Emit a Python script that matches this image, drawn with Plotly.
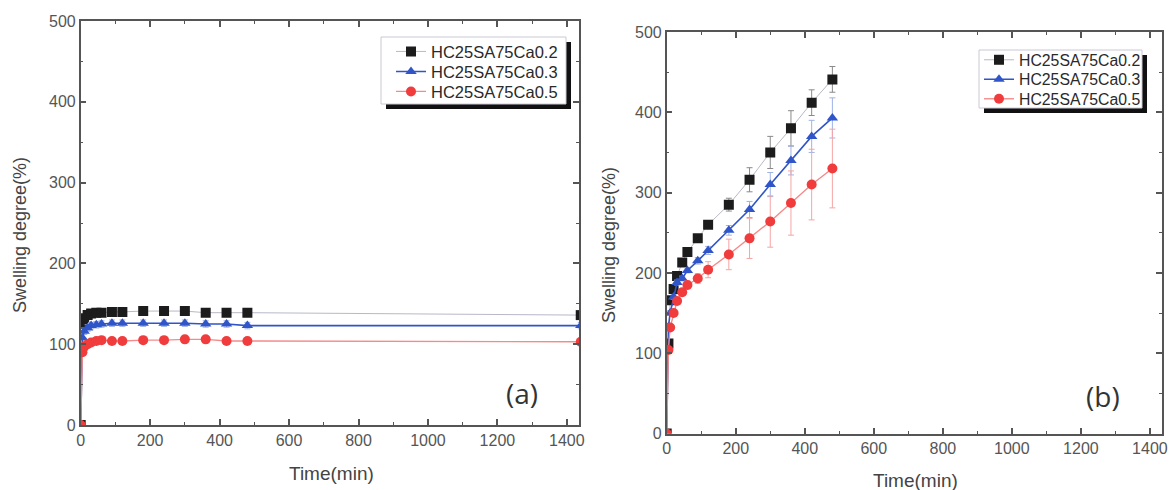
import plotly.graph_objects as go

W, H = 1169, 490

# ---------------- data ----------------
names = ["HC25SA75Ca0.2", "HC25SA75Ca0.3", "HC25SA75Ca0.5"]

time_a = [0, 5, 10, 20, 30, 45, 60, 90, 120, 180, 240, 300, 360, 420, 480, 1440]
a_ca02 = [0, 125, 132, 136, 138, 139, 139, 140, 140, 141, 141, 141, 139, 139, 139, 136]
a_ca03 = [0, 108, 116, 120, 123, 124, 125, 126, 126, 126, 126, 126, 125, 125, 123, 123]
a_ca05 = [0, 90, 97, 100, 102, 104, 105, 104, 104, 105, 105, 106, 106, 104, 104, 103]
a_err02 = [0, 3, 3, 3, 3, 3, 3, 3, 3, 3, 3, 3, 3, 3, 3, 3]
a_err03 = [0, 4, 4, 4, 4, 4, 4, 4, 4, 4, 4, 4, 4, 4, 4, 4]
a_err05 = [0, 4, 4, 4, 4, 4, 4, 4, 4, 4, 4, 4, 4, 4, 4, 4]

time_b = [0, 5, 10, 20, 30, 45, 60, 90, 120, 180, 240, 300, 360, 420, 480]
b_ca02 = [0, 112, 166, 180, 196, 213, 226, 243, 260, 285, 316, 350, 380, 412, 441]
b_ca03 = [0, 133, 150, 170, 188, 193, 203, 215, 228, 253, 279, 310, 340, 370, 393]
b_ca05 = [0, 104, 132, 150, 165, 176, 185, 193, 204, 223, 243, 264, 287, 310, 330]
b_err02 = [0, 3, 3, 3, 3, 3, 3, 3, 3, 8, 15, 20, 22, 16, 16]
b_err03 = [0, 3, 3, 3, 3, 3, 3, 4, 5, 6, 10, 15, 18, 20, 25]
b_err05 = [0, 3, 3, 3, 3, 4, 5, 6, 10, 19, 25, 32, 40, 44, 49]

x_ticks = [0, 200, 400, 600, 800, 1000, 1200, 1400]
y_ticks = [0, 100, 200, 300, 400, 500]

# ---------------- styles ----------------
marker_sym = ["square", "triangle-up", "circle"]
marker_col = ["#1c1c1c", "#2f55c9", "#f03c3c"]
line_col = ["#b8b8c8", "#2f55c9", "#f58a8a"]
line_w = [1, 1.6, 1.4]
err_col = ["#8a8a8a", "#9fb2e6", "#f5a5a5"]

FONT = "Liberation Sans, Arial, sans-serif"


def px_x(p):
    return p / W


def px_y(p):
    return (H - p) / H


fig = go.Figure()

series_a = [a_ca02, a_ca03, a_ca05]
errs_a = [a_err02, a_err03, a_err05]
series_b = [b_ca02, b_ca03, b_ca05]
errs_b = [b_err02, b_err03, b_err05]

leg_ids_a = ["legend", "legend2", "legend3"]
leg_ids_b = ["legend4", "legend5", "legend6"]

for i in range(3):
    fig.add_trace(go.Scatter(
        x=time_a, y=series_a[i], name=names[i], mode="lines+markers",
        line=dict(color=line_col[i], width=line_w[i]),
        marker=dict(symbol=marker_sym[i], color=marker_col[i], size=10),
        error_y=dict(type="data", array=errs_a[i], color=err_col[i], thickness=1, width=3),
        xaxis="x", yaxis="y", legend=leg_ids_a[i],
    ))
for i in range(3):
    fig.add_trace(go.Scatter(
        x=time_b, y=series_b[i], name=names[i], mode="lines+markers",
        line=dict(color=line_col[i], width=line_w[i]),
        marker=dict(symbol=marker_sym[i], color=marker_col[i], size=10),
        error_y=dict(type="data", array=errs_b[i], color=err_col[i], thickness=1, width=3),
        xaxis="x2", yaxis="y2", legend=leg_ids_b[i],
    ))

axis_common = dict(
    showline=True, linecolor="#555555", linewidth=1.5, mirror="allticks",
    ticks="inside", ticklen=6, tickwidth=1.5, tickcolor="#555555",
    showgrid=False, zeroline=False, automargin=False,
    tickfont=dict(family=FONT, size=16, color="#555555"),
)

layout = dict(
    width=W, height=H, autosize=False,
    margin=dict(l=0, r=0, t=0, b=0, pad=0),
    paper_bgcolor="white", plot_bgcolor="white",
    showlegend=True,
    xaxis=dict(domain=[px_x(80.7), px_x(579)], range=[0, 1435], tickvals=x_ticks,
               minor=dict(ticks="inside", ticklen=3, dtick=100, tickcolor="#555555", tickwidth=1.2),
               anchor="y", **axis_common),
    yaxis=dict(domain=[px_y(425), px_y(21)], range=[0, 500], tickvals=y_ticks,
               minor=dict(ticks="inside", ticklen=3, dtick=50, tickcolor="#555555", tickwidth=1.2),
               anchor="x", **axis_common),
    xaxis2=dict(domain=[px_x(666.7), px_x(1162)], range=[0, 1435], tickvals=x_ticks,
                minor=dict(ticks="inside", ticklen=3, dtick=100, tickcolor="#555555", tickwidth=1.2),
                anchor="y2", **axis_common),
    yaxis2=dict(domain=[px_y(433.5), px_y(32)], range=[0, 500], tickvals=y_ticks,
                minor=dict(ticks="inside", ticklen=3, dtick=50, tickcolor="#555555", tickwidth=1.2),
                anchor="x2", **axis_common),
)

# one legend per entry so rows sit at the reference spacing
rows_a = [51.7, 71.7, 91.7]
rows_b = [60, 79.5, 99]
for i in range(3):
    layout[leg_ids_a[i]] = dict(
        x=px_x(391), y=px_y(rows_a[i]), xanchor="left", yanchor="middle",
        bgcolor="rgba(0,0,0,0)", borderwidth=0,
        font=dict(family=FONT, size=16.5, color="#2a2a2a"), itemwidth=30)
    layout[leg_ids_b[i]] = dict(
        x=px_x(979), y=px_y(rows_b[i]), xanchor="left", yanchor="middle",
        bgcolor="rgba(0,0,0,0)", borderwidth=0,
        font=dict(family=FONT, size=15.8, color="#2a2a2a"), itemwidth=30)

fig.update_layout(**layout)


# legend boxes with drop shadows
def legend_box(x0, y0, x1, y1, off=5):
    fig.add_shape(type="rect", xref="paper", yref="paper",
                  x0=px_x(x0 + off), x1=px_x(x1 + off), y0=px_y(y1 + off), y1=px_y(y0 + off),
                  fillcolor="#111111", line=dict(width=0), layer="above")
    fig.add_shape(type="rect", xref="paper", yref="paper",
                  x0=px_x(x0), x1=px_x(x1), y0=px_y(y1), y1=px_y(y0),
                  fillcolor="white", line=dict(color="#c8c8d4", width=1), layer="above")


legend_box(381, 37, 566, 104)
legend_box(979, 50, 1142, 108)


# titles
def note(text, x, y, size, family=FONT, color="#444444", angle=0):
    return dict(text=text, x=px_x(x), y=px_y(y), xref="paper", yref="paper",
                xanchor="center", yanchor="middle", showarrow=False, textangle=angle,
                font=dict(family=family, size=size, color=color))


ann = [
    note("Time(min)", 331, 473, 19),
    note("Time(min)", 915, 480, 19),
    note("Swelling degree(%)", 20, 235, 18, angle=-90),
    note("Swelling degree(%)", 609, 245, 18, angle=-90),
    note("(a)", 522, 393, 28, family="Open Sans, sans-serif", color="#333333"),
    note("(b)", 1103, 396, 28, family="Open Sans, sans-serif", color="#333333"),
]
fig.update_layout(annotations=ann)

fig.write_html(
    "out.html",
    config={"displayModeBar": False},
    post_script="document.body.style.margin='0';document.body.style.overflow='hidden';",
)
